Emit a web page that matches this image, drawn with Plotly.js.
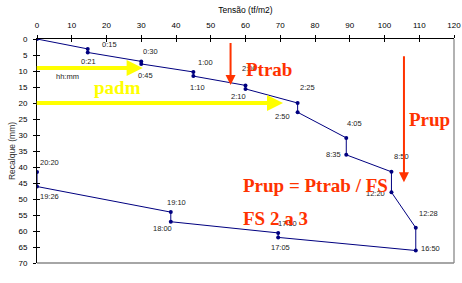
<!DOCTYPE html>
<html>
<head>
<meta charset="utf-8">
<script src="https://cdn.plot.ly/plotly-3.0.1.min.js"></script>
<style>html,body{margin:0;padding:0;background:#fff;}#chart{width:462px;height:283px;}</style>
</head>
<body>
<div id="chart"></div>
<script>
// Data
const tensao  = [0, 14.6, 14.6, 30, 30, 45, 45, 60, 60, 75, 75, 89, 89, 102, 102, 109, 109, 69.4, 69.4, 38.5, 38.5, 0, 0];
const recalque = [0, 3.1, 4.2, 7.0, 7.8, 10.3, 11.6, 14.5, 15.6, 20.0, 22.9, 30.9, 36.2, 41.5, 47.9, 59.0, 66.1, 62.0, 60.6, 57.1, 54.1, 46.1, 41.6];
const tempos  = [null, "0:15", "0:21", "0:30", "0:45", "1:00", "1:10", "2:00", "2:10", "2:25", "2:50", "4:05", "8:35", "8:50", "12:20", "12:28", "16:50", "17:05", "17:50", "18:00", "19:10", "19:26", "20:20"];
const xTicks = [0, 10, 20, 30, 40, 50, 60, 70, 80, 90, 100, 110, 120];
const yTicks = [0, 5, 10, 15, 20, 25, 30, 35, 40, 45, 50, 55, 60, 65, 70];

// label offsets in pixels (layout only)
const labelOffsets = [null, [22,-4],[1,9],[9,-10],[4,12],[12,-9],[4,11],[4,-17],[-7,8],[10,-16],[-15,4],[8,-14],[-13,0],[10,-15],[-16,1],[13,-14],[15,-2],[2,10],[9,-9],[-8,7],[6,-10],[12,10],[12,-10]];

const navy = "#000080";
const red = "#FF3300";
const yellow = "#FFFF00";

const trace = {
  x: tensao, y: recalque, type: "scatter", mode: "lines+markers",
  line: {color: navy, width: 1},
  marker: {color: navy, size: 4},
  hoverinfo: "skip", showlegend: false
};
// invisible trace for secondary (inside tick) axes
const trace2 = {x: [0], y: [0], xaxis: "x2", yaxis: "y2", mode: "markers", marker: {opacity: 0}, showlegend: false, hoverinfo: "skip"};

const annotations = [];
tempos.forEach((t, i) => {
  if (!t) return;
  annotations.push({x: tensao[i], y: recalque[i], xref: "x", yref: "y", text: t, showarrow: false,
    xshift: labelOffsets[i][0], yshift: -labelOffsets[i][1],
    font: {family: "Liberation Sans, Arial", size: 7.5, color: "#222"}});
});
annotations.push({x: 8.8, y: 11.7, xref: "x", yref: "y", text: "hh:mm", showarrow: false,
  font: {family: "Liberation Sans, Arial", size: 7.5, color: "#222"}});

// Yellow arrows
annotations.push({x: 30.4, y: 9.1, ax: -0.5, ay: 9.1, xref: "x", yref: "y", axref: "x", ayref: "y",
  showarrow: true, arrowhead: 2, arrowsize: 0.8, arrowwidth: 4, arrowcolor: yellow, text: ""});
annotations.push({x: 70.8, y: 20, ax: -0.5, ay: 20, xref: "x", yref: "y", axref: "x", ayref: "y",
  showarrow: true, arrowhead: 2, arrowsize: 0.8, arrowwidth: 4, arrowcolor: yellow, text: ""});
// Red arrows
annotations.push({x: 55.7, y: 14.4, ax: 55.7, ay: 0.75, xref: "x", yref: "y", axref: "x", ayref: "y",
  showarrow: true, arrowhead: 2, arrowsize: 1, arrowwidth: 2, arrowcolor: red, text: ""});
annotations.push({x: 105.6, y: 44.8, ax: 105.6, ay: 4.9, xref: "x", yref: "y", axref: "x", ayref: "y",
  showarrow: true, arrowhead: 2, arrowsize: 1, arrowwidth: 2, arrowcolor: red, text: ""});

const big = (c) => ({family: "Liberation Serif, Times New Roman", size: 19, color: c, weight: "bold"});
annotations.push({x: 23.3, y: 15.3, xref: "x", yref: "y", text: "<b>padm</b>", showarrow: false, font: big("#FFFF00")});
annotations.push({x: 66.8, y: 9.6, xref: "x", yref: "y", text: "<b>Ptrab</b>", showarrow: false, font: big(red)});
annotations.push({x: 113, y: 25.1, xref: "x", yref: "y", text: "<b>Prup</b>", showarrow: false, font: big(red)});
annotations.push({x: 58.8, y: 45.8, xref: "x", yref: "y", text: "<b>Prup = Ptrab / FS</b>", showarrow: false, xanchor: "left", font: big(red)});
annotations.push({x: 58.8, y: 56.0, xref: "x", yref: "y", text: "<b>FS 2 a 3</b>", showarrow: false, xanchor: "left", font: big(red)});

const tickFont = {family: "Liberation Sans, Arial", size: 8, color: "#000"};
const layout = {
  width: 462, height: 283,
  margin: {l: 37, r: 8, t: 39, b: 20},
  paper_bgcolor: "#fff", plot_bgcolor: "#fff",
  font: {family: "Liberation Sans, Arial"},
  xaxis: {range: [0, 120], side: "top", tickvals: xTicks, ticktext: xTicks.map(String),
    showgrid: false, zeroline: false, showline: true, linecolor: "#000", linewidth: 1,
    ticks: "outside", ticklen: 3, tickcolor: "#000", tickfont: tickFont, ticklabelstandoff: 4,
    title: {text: "Tensão (tf/m2)", font: {family: "Liberation Sans, Arial", size: 8.5, color: "#000"}, standoff: 5}},
  yaxis: {range: [70, 0], tickvals: yTicks, ticktext: yTicks.map(String),
    showgrid: false, zeroline: false, showline: true, linecolor: "#000", linewidth: 1,
    ticks: "outside", ticklen: 3, tickcolor: "#000", tickfont: tickFont, ticklabelstandoff: 4,
    title: {text: "Recalque (mm)", font: {family: "Liberation Sans, Arial", size: 8.5, color: "#333"}, standoff: 1}},
  xaxis2: {range: [0, 120], overlaying: "x", side: "top", tickvals: xTicks, showticklabels: false,
    ticks: "inside", ticklen: 3, tickcolor: "#000", showgrid: false, zeroline: false, showline: false},
  yaxis2: {range: [70, 0], overlaying: "y", tickvals: yTicks, showticklabels: false,
    ticks: "inside", ticklen: 3, tickcolor: "#000", showgrid: false, zeroline: false, showline: false},
  shapes: [
    {type: "line", xref: "paper", yref: "paper", x0: 1, x1: 1, y0: 0, y1: 1, line: {color: "#999", width: 1.5}},
    {type: "line", xref: "paper", yref: "paper", x0: 0, x1: 1, y0: 0, y1: 0, line: {color: "#888", width: 1.5}}
  ],
  annotations: annotations,
  showlegend: false
};
Plotly.newPlot("chart", [trace, trace2], layout, {staticPlot: true, displayModeBar: false});
</script>
</body>
</html>
